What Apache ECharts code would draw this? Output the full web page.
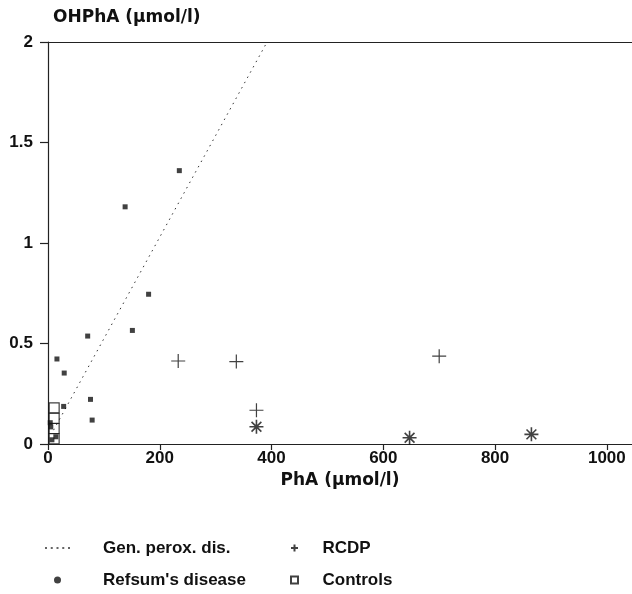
<!DOCTYPE html>
<html><head><meta charset="utf-8">
<script src="https://cdn.jsdelivr.net/npm/echarts@6/dist/echarts.min.js"></script>
<style>html,body{margin:0;padding:0;background:#fff}#c{width:632px;height:594px}</style>
</head><body><div id="c"></div>
<script>
// Gen. perox. dis. (dotted line)
const genPeroxPhA = [10, 392];
const genPeroxOHPhA = [0.069, 2.0];
// Refsum's disease
const refsumPhA = [235, 138, 180, 151, 71, 16, 29, 76, 28, 79, 4, 5, 14, 7];
const refsumOHPhA = [1.36, 1.18, 0.745, 0.565, 0.537, 0.423, 0.353, 0.222, 0.187, 0.119, 0.106, 0.085, 0.036, 0.021];
// RCDP (plus)
const rcdpPhA = [233, 337, 373, 700];
const rcdpOHPhA = [0.413, 0.41, 0.168, 0.437];
// RCDP (asterisk marks)
const rcdpStarPhA = [373, 647, 865];
const rcdpStarOHPhA = [0.086, 0.031, 0.048];
// Controls
const controlsPhA = [11, 11, 11, 11];
const controlsOHPhA = [0.18, 0.128, 0.077, 0.026];
// axes
const xMin = 0, xMax = 1045, xStep = 200;
const yMin = 0, yMax = 2, yStep = 0.5;

const zip = (xs, ys) => xs.map((x, i) => [x, ys[i]]);
const ink = '#111';
const tickFont = {fontFamily: 'Liberation Sans', fontWeight: 'bold', fontSize: 17, color: ink};
const titleFont = {fontFamily: 'DejaVu Sans', fontWeight: 'bold', fontSize: 17, color: ink};
const legendFont = {fontFamily: 'Liberation Sans', fontWeight: 'bold', fontSize: 17, color: ink, lineHeight: 18};
const axisLineStyle = {color: '#222', width: 1.2};
const dottedIcon = 'path://M0,0H2V1.4H0Z M5.75,0H7.75V1.4H5.75Z M11.5,0H13.5V1.4H11.5Z M17.25,0H19.25V1.4H17.25Z M23,0H25V1.4H23Z';

const chart = echarts.init(document.getElementById('c'));
chart.setOption({
  animation: false,
  backgroundColor: '#fff',
  grid: {left: 48, right: 0, top: 42, bottom: 150, containLabel: false},
  xAxis: [{
    type: 'value', min: xMin, max: xMax, interval: xStep, position: 'bottom',
    name: 'PhA (µmol/l)', nameLocation: 'middle', nameGap: 16, nameTextStyle: titleFont,
    axisLine: {onZero: false, lineStyle: axisLineStyle},
    axisTick: {length: 6, lineStyle: {color: '#222', width: 1.2}},
    axisLabel: Object.assign({margin: 6, showMaxLabel: false, formatter: v => String(v)}, tickFont),
    splitLine: {show: false}
  }, {
    type: 'value', min: xMin, max: xMax, position: 'top',
    axisLine: {show: true, onZero: false, lineStyle: axisLineStyle},
    axisTick: {show: false}, axisLabel: {show: false}, splitLine: {show: false}
  }],
  yAxis: {
    type: 'value', min: yMin, max: yMax, interval: yStep,
    name: 'OHPhA (µmol/l)', nameLocation: 'end', nameGap: 16,
    nameTextStyle: Object.assign({align: 'left', padding: [0, 0, 0, 5]}, titleFont),
    axisLine: {onZero: false, lineStyle: axisLineStyle},
    axisTick: {length: 8, lineStyle: {color: '#222', width: 1.2}},
    axisLabel: Object.assign({margin: 15}, tickFont),
    splitLine: {show: false}
  },
  legend: [{
    left: 45, top: 539, orient: 'vertical', padding: 0, itemGap: 14, itemWidth: 25, itemHeight: 7,
    selectedMode: false,
    textStyle: Object.assign({padding: [0, 0, 0, 28]}, legendFont),
    data: [{name: 'Gen. perox. dis.', icon: dottedIcon}, {name: "Refsum's disease", icon: 'circle'}]
  }, {
    left: 290, top: 539, orient: 'vertical', padding: 0, itemGap: 14, itemWidth: 14, itemHeight: 7,
    selectedMode: false,
    textStyle: Object.assign({padding: [0, 0, 0, 16]}, legendFont),
    data: [{name: 'RCDP'}, {name: 'Controls', icon: 'path://M0,0H10V10H0Z'}]
  }],
  series: [{
    name: 'Gen. perox. dis.', type: 'line', data: zip(genPeroxPhA, genPeroxOHPhA),
    symbol: 'none', z: 1, itemStyle: {color: '#333'},
    lineStyle: {color: '#333', width: 1, type: [1.5, 4.5]}
  }, {
    name: "Refsum's disease", type: 'scatter', data: zip(refsumPhA, refsumOHPhA),
    symbol: 'rect', symbolSize: 5, itemStyle: {color: ink}
  }, {
    name: 'RCDP', type: 'scatter', data: zip(rcdpPhA, rcdpOHPhA),
    symbol: 'path://M0,7H14M7,0V14', symbolSize: 14,
    itemStyle: {color: ink, borderColor: ink, borderWidth: 1.2}
  }, {
    name: 'RCDP*', type: 'scatter', data: zip(rcdpStarPhA, rcdpStarOHPhA),
    symbol: 'path://M0,6H12M6,0V12M1.8,1.8L10.2,10.2M10.2,1.8L1.8,10.2', symbolSize: 14,
    itemStyle: {color: ink, borderColor: ink, borderWidth: 1.6}
  }, {
    name: 'Controls', type: 'scatter', data: zip(controlsPhA, controlsOHPhA),
    symbol: 'rect', symbolSize: 10,
    itemStyle: {color: 'rgba(255,255,255,0)', borderColor: ink, borderWidth: 1.2}
  }]
});
</script>
</body></html>
